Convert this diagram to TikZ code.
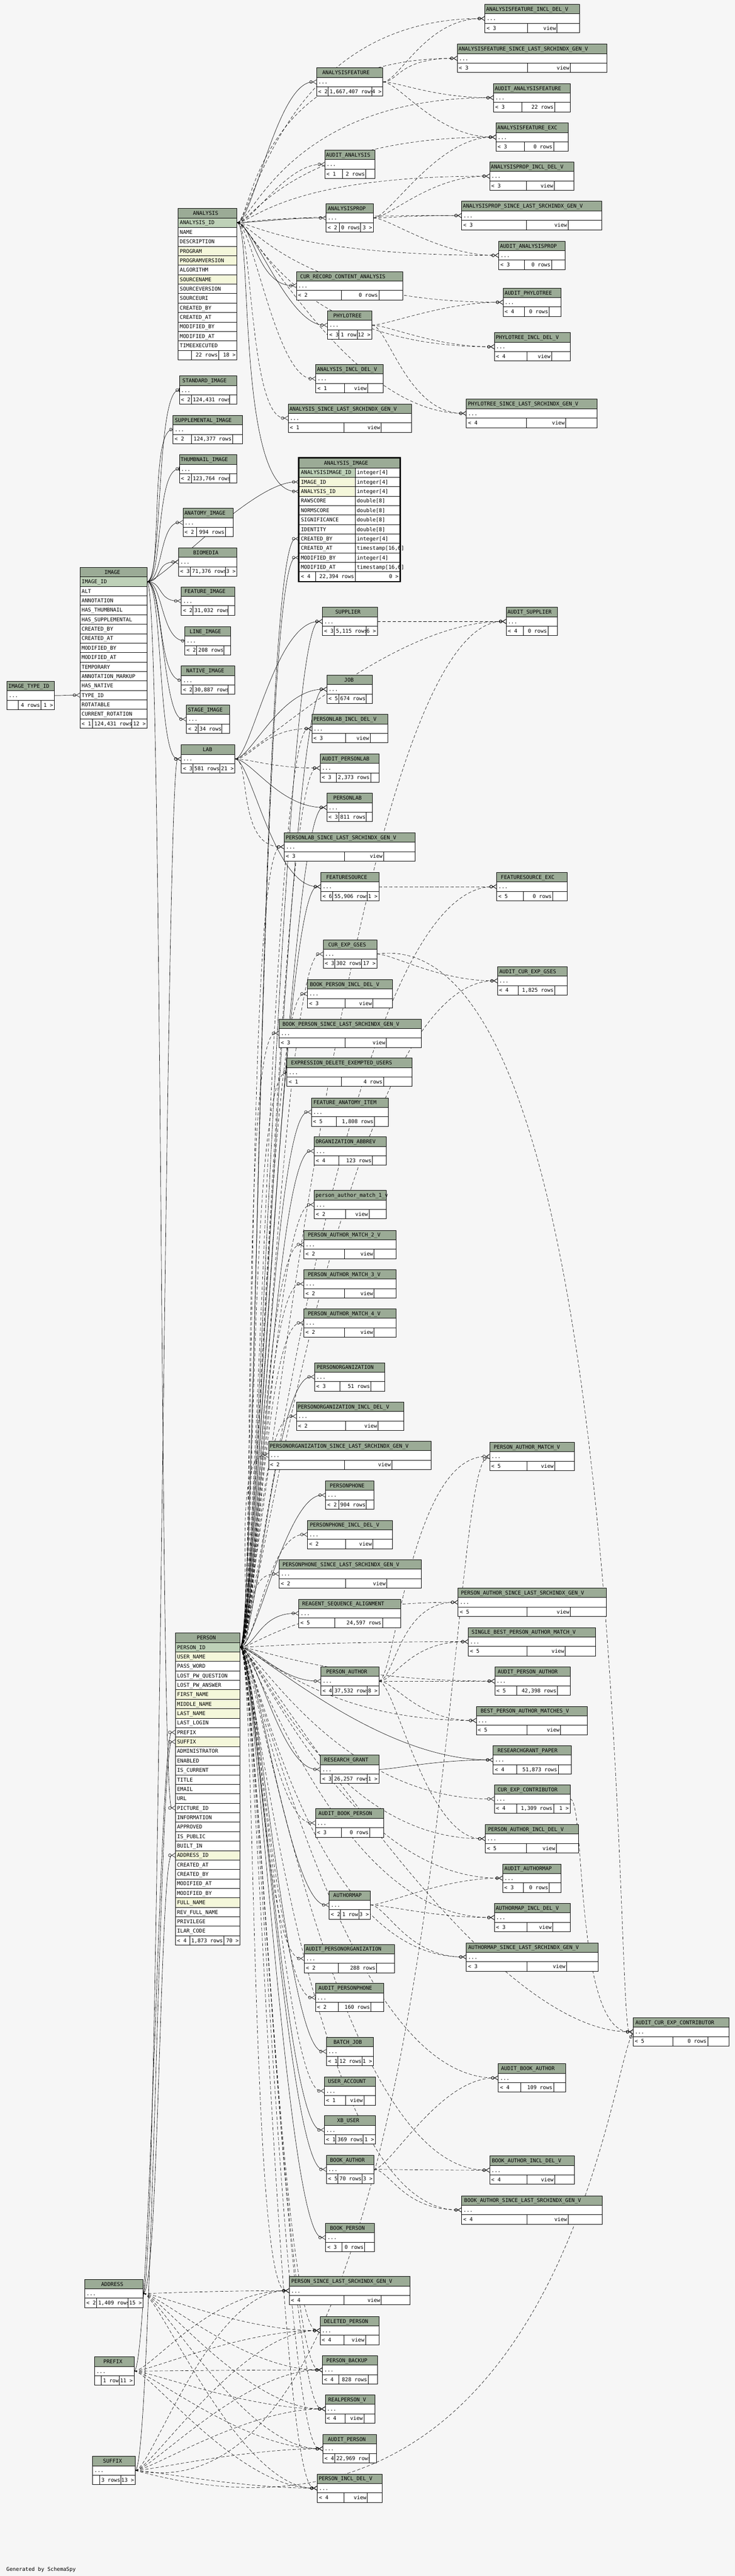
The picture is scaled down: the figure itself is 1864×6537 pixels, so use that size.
\documentclass[tikz,border=0pt]{standalone}
\usepackage{fontspec}
\usetikzlibrary{arrows.meta}
\newfontfamily\monofam{DejaVu Sans Mono}
\newcommand\erfont{\monofam\fontsize{13.3pt}{16pt}\selectfont}
\definecolor{bgc}{HTML}{F6F6F6}
\definecolor{hdc}{HTML}{9BAB96}
\definecolor{pkc}{HTML}{BED1B8}
\definecolor{idxc}{HTML}{F4F7DA}
\pgfdeclarelayer{back}
\pgfdeclarelayer{links}
\pgfsetlayers{back,links,main}
\newcount\chn
\def\countchars#1{\chn=0 \countloop#1\relax}
\def\countloop#1{\ifx#1\relax\else\advance\chn by1 \expandafter\countloop\fi}
\newcommand\tblhead[5]{%
  \pgfmathsetmacro\tbW{#4-#2}%
  \countchars{#5}%
  \pgfmathsetmacro\tbT{max(#2+3,(#2+#4)/2-4.64*\the\chn)}%
  \node[hdbox,minimum width=\tbW pt] (#1-h) at (#2,#3) {};
  \node[txt] (#1-t) at (\tbT,#3+17) {#5};
}
\newcommand\tbl[5]{%
  \def\tbid{#1}\def\tbX{#2}\def\tbY{#3}\def\tbR{#4}%
  \tblhead{#1}{#2}{#3}{#4}{#5}%
  \node[rbox,minimum width=\tbW pt] (#1) at (#2,#3+24) {};
  \node[txt] (#1-d) at (#2+4,#3+41) {...};
}
\newcommand\tabfoot[9]{%
  \pgfmathsetmacro\tbW{#4-#2}\pgfmathsetmacro\tbV{#4-#6}%
  \countchars{#8}%
  \pgfmathsetmacro\tbM{max(#5+4,#6-3-8*\the\chn)}%
  \node[rbox,minimum width=\tbW pt] (#1-f) at (#2,#3) {};
  \node[txt] (#1-fm) at (\tbM,#3+17) {#8};
  \node[rbox,minimum width=\tbV pt] (#1-fr) at (#6,#3) {};
  \node[txt,anchor=base east] (#1-fx) at (#4-3,#3+17) {#9};
  \node[txt] (#1-fl) at (#2+4,#3+17) {#7};
  \draw[tline] (#5,#3) -- (#5,#3+24);
}
\newcommand\tblfoot[5]{\tabfoot{\tbid}{\tbX}{\tbY+48}{\tbR}{#1}{#2}{#3}{#4}{#5}}

\begin{document}
\begin{tikzpicture}[x=1pt,y=-1pt,
  tline/.style={line width=1pt},
  hdbox/.style={draw,line width=1pt,fill=hdc,anchor=north west,minimum height=24pt,inner sep=0pt,outer sep=0pt},
  rbox/.style={hdbox,fill=white},
  txt/.style={anchor=base west,inner sep=0pt,font=\erfont},
  fk/.style={line width=0.8pt,-{Circle[open,length=8pt,width=8pt] Straight Barb[reversed,length=9pt,width=11pt]}},
  ifk/.style={fk,dash pattern=on 8pt off 5pt},
  fk1/.style={line width=0.8pt,-{Circle[open,length=8pt,width=8pt] Bar[width=11pt,line width=1.6pt]}},
  ifk1/.style={fk1,dash pattern=on 8pt off 5pt},
  lnk/.style={to path={.. controls +(40,0) and +(-#1,0) .. (\tikztotarget)}},
  lnk/.default=100]
\useasboundingbox (0,0) rectangle (1864,6537);
\begin{pgfonlayer}{back}
\fill[bgc] (0,0) rectangle (1864,6537);
\end{pgfonlayer}

\tblhead{analysis}{452}{529}{601}{ANALYSIS}
\foreach \cn/\fc [count=\i] in {ANALYSIS\_ID/pkc,NAME/white,DESCRIPTION/white,PROGRAM/idxc,PROGRAMVERSION/idxc,ALGORITHM/white,SOURCENAME/idxc,SOURCEVERSION/white,SOURCEURI/white,CREATED\_BY/white,CREATED\_AT/white,MODIFIED\_BY/white,MODIFIED\_AT/white,TIMEEXECUTED/white} {
  \node[rbox,minimum width=149pt,fill=\fc] (analysis-\i) at (452,529+24*\i) {};
  \node[txt] (analysis-\i-t) at (456,546+24*\i) {\cn};
}
\tabfoot{analysis}{452}{889}{601}{486}{555}{}{22~rows}{18 >}

\tblhead{image}{203}{1440}{373}{IMAGE}
\foreach \cn/\fc [count=\i] in {IMAGE\_ID/pkc,ALT/white,ANNOTATION/white,HAS\_THUMBNAIL/white,HAS\_SUPPLEMENTAL/white,CREATED\_BY/white,CREATED\_AT/white,MODIFIED\_BY/white,MODIFIED\_AT/white,TEMPORARY/white,ANNOTATION\_MARKUP/white,HAS\_NATIVE/white,TYPE\_ID/white,ROTATABLE/white,CURRENT\_ROTATION/white} {
  \node[rbox,minimum width=170pt,fill=\fc] (image-\i) at (203,1440+24*\i) {};
  \node[txt] (image-\i-t) at (207,1457+24*\i) {\cn};
}
\tabfoot{image}{203}{1824}{373}{235}{334}{< 1}{124,431~rows}{12 >}

\tblhead{person}{445}{4144}{609}{PERSON}
\foreach \cn/\fc [count=\i] in {PERSON\_ID/pkc,USER\_NAME/idxc,PASS\_WORD/white,LOST\_PW\_QUESTION/white,LOST\_PW\_ANSWER/white,FIRST\_NAME/idxc,MIDDLE\_NAME/idxc,LAST\_NAME/idxc,LAST\_LOGIN/white,PREFIX/white,SUFFIX/idxc,ADMINISTRATOR/white,ENABLED/white,IS\_CURRENT/white,TITLE/white,EMAIL/white,URL/white,PICTURE\_ID/white,INFORMATION/white,APPROVED/white,IS\_PUBLIC/white,BUILT\_IN/white,ADDRESS\_ID/idxc,CREATED\_AT/white,CREATED\_BY/white,MODIFIED\_AT/white,MODIFIED\_BY/white,FULL\_NAME/idxc,REV\_FULL\_NAME/white,PRIVILEGE/white,ILAR\_CODE/white} {
  \node[rbox,minimum width=164pt,fill=\fc] (person-\i) at (445,4144+24*\i) {};
  \node[txt] (person-\i-t) at (449,4161+24*\i) {\cn};
}
\tabfoot{person}{445}{4912}{609}{481}{568}{< 4}{1,873~rows}{70 >}

\tblhead{anaimg}{759}{1163}{1014}{ANALYSIS\_IMAGE}
\foreach \cn/\ty/\fc [count=\i] in {ANALYSISIMAGE\_ID/integer[4]/pkc,IMAGE\_ID/integer[4]/idxc,ANALYSIS\_ID/integer[4]/idxc,RAWSCORE/double[8]/white,NORMSCORE/double[8]/white,SIGNIFICANCE/double[8]/white,IDENTITY/double[8]/white,CREATED\_BY/integer[4]/white,CREATED\_AT/{timestamp[16,6]}/white,MODIFIED\_BY/integer[4]/white,MODIFIED\_AT/{timestamp[16,6]}/white} {
  \node[rbox,minimum width=142pt,fill=\fc] (anaimg-\i) at (759,1163+24*\i) {};
  \node[txt] (anaimg-\i-t) at (763,1180+24*\i) {\cn};
  \node[rbox,minimum width=113pt] (anaimg-\i-y) at (901,1163+24*\i) {};
  \node[txt] (anaimg-\i-yt) at (905,1180+24*\i) {\ty};
}
\tabfoot{anaimg}{759}{1451}{1014}{800}{901}{< 4}{22,394~rows}{0 >}
\draw[line width=3pt] (757,1161) rectangle (1015.5,1476);

\tbl{afincl}{1230}{11}{1470}{ANALYSISFEATURE\_INCL\_DEL\_V}\tblfoot{1338}{1413}{< 3}{view}{}
\tbl{afsince}{1160}{112}{1539}{ANALYSISFEATURE\_SINCE\_LAST\_SRCHINDX\_GEN\_V}\tblfoot{1338}{1447}{< 3}{view}{}
\tbl{afeat}{803}{172}{971}{ANALYSISFEATURE}\tblfoot{832}{943}{< 2}{1,667,407~rows}{4 >}
\tbl{audaf}{1252}{212}{1446}{AUDIT\_ANALYSISFEATURE}\tblfoot{1323}{1407}{< 3}{22~rows}{}
\tbl{afexc}{1258}{312}{1441}{ANALYSISFEATURE\_EXC}\tblfoot{1330}{1404}{< 3}{0~rows}{}
\tbl{audan}{824}{381}{951}{AUDIT\_ANALYSIS}\tblfoot{868}{928}{< 1}{2~rows}{}
\tbl{apincl}{1242}{411}{1456}{ANALYSISPROP\_INCL\_DEL\_V}\tblfoot{1335}{1406}{< 3}{view}{}
\tbl{apsince}{1171}{511}{1526}{ANALYSISPROP\_SINCE\_LAST\_SRCHINDX\_GEN\_V}\tblfoot{1335}{1441}{< 3}{view}{}
\tbl{aprop}{827}{517}{947}{ANALYSISPROP}\tblfoot{861}{915}{< 2}{0~rows}{3 >}
\tbl{audap}{1265}{612}{1434}{AUDIT\_ANALYSISPROP}\tblfoot{1330}{1399}{< 3}{0~rows}{}
\tbl{currec}{752}{689}{1021}{CUR\_RECORD\_CONTENT\_ANALYSIS}\tblfoot{866}{961}{< 2}{0~rows}{}
\tbl{audpt}{1276}{731}{1423}{AUDIT\_PHYLOTREE}\tblfoot{1330}{1393}{< 4}{0~rows}{}
\tbl{phylo}{831}{789}{943}{PHYLOTREE}\tblfoot{860}{906}{< 3}{1~row}{12 >}
\tbl{ptincl}{1254}{844}{1446}{PHYLOTREE\_INCL\_DEL\_V}\tblfoot{1336}{1399}{< 4}{view}{}
\tbl{anincl}{801}{925}{972}{ANALYSIS\_INCL\_DEL\_V}\tblfoot{874}{933}{< 1}{view}{}
\tbl{stdimg}{455}{954}{600}{STANDARD\_IMAGE}\tblfoot{485}{582}{< 2}{124,431~rows}{}
\tbl{ptsince}{1183}{1013}{1515}{PHYLOTREE\_SINCE\_LAST\_SRCHINDX\_GEN\_V}\tblfoot{1335}{1435}{< 4}{view}{}
\tbl{ansince}{731}{1025}{1044}{ANALYSIS\_SINCE\_LAST\_SRCHINDX\_GEN\_V}\tblfoot{873}{967}{< 1}{view}{}
\tbl{supimg}{439}{1054}{615}{SUPPLEMENTAL\_IMAGE}\tblfoot{485}{590}{< 2}{124,377~rows}{}
\tbl{thumb}{455}{1154}{600}{THUMBNAIL\_IMAGE}\tblfoot{485}{582}{< 2}{123,764~rows}{}
\tbl{anatimg}{464}{1290}{592}{ANATOMY\_IMAGE}\tblfoot{499}{572}{< 2}{994~rows}{}
\tbl{biomedia}{453}{1390}{601}{BIOMEDIA}\tblfoot{483}{572}{< 3}{71,376~rows}{3 >}
\tbl{featimg}{460}{1489}{596}{FEATURE\_IMAGE}\tblfoot{489}{578}{< 2}{31,032~rows}{}
\tbl{supplier}{818}{1541}{957}{SUPPLIER}\tblfoot{848}{929}{< 3}{5,115~rows}{6 >}
\tbl{audsup}{1284}{1541}{1414}{AUDIT\_SUPPLIER}\tblfoot{1327}{1390}{< 4}{0~rows}{}
\tbl{lineimg}{469}{1590}{585}{LINE\_IMAGE}\tblfoot{499}{568}{< 2}{208~rows}{}
\tbl{natimg}{460}{1690}{596}{NATIVE\_IMAGE}\tblfoot{489}{578}{< 2}{30,887~rows}{}
\tbl{job}{829}{1713}{945}{JOB}\tblfoot{859}{929}{< 5}{674~rows}{}
\tbl{imgtype}{18}{1729}{138}{IMAGE\_TYPE\_ID}\tblfoot{46}{104}{}{4~rows}{1 >}
\tbl{stageimg}{473}{1789}{582}{STAGE\_IMAGE}\tblfoot{502}{563}{< 2}{34~rows}{}
\tbl{plincl}{791}{1813}{984}{PERSONLAB\_INCL\_DEL\_V}\tblfoot{876}{939}{< 3}{view}{}
\tbl{lab}{460}{1890}{596}{LAB}\tblfoot{489}{557}{< 3}{581~rows}{21 >}
\tbl{audpl}{812}{1913}{961}{AUDIT\_PERSONLAB}\tblfoot{853}{940}{< 3}{2,373~rows}{}
\tbl{personlab}{829}{2013}{945}{PERSONLAB}\tblfoot{859}{929}{< 3}{811~rows}{}
\tbl{plsince}{721}{2113}{1053}{PERSONLAB\_SINCE\_LAST\_SRCHINDX\_GEN\_V}\tblfoot{874}{973}{< 3}{view}{}
\tbl{fsrc}{814}{2214}{961}{FEATURESOURCE}\tblfoot{844}{932}{< 6}{55,906~rows}{1 >}
\tbl{fsrcexc}{1260}{2214}{1438}{FEATURESOURCE\_EXC}\tblfoot{1327}{1402}{< 5}{0~rows}{}
\tbl{gses}{820}{2385}{956}{CUR\_EXP\_GSES}\tblfoot{849}{917}{< 3}{302~rows}{17 >}
\tbl{audgses}{1262}{2453}{1438}{AUDIT\_CUR\_EXP\_GSES}\tblfoot{1315}{1407}{< 4}{1,825~rows}{}
\tbl{bpincl}{780}{2486}{996}{BOOK\_PERSON\_INCL\_DEL\_V}\tblfoot{875}{946}{< 3}{view}{}
\tbl{bpsince}{708}{2586}{1068}{BOOK\_PERSON\_SINCE\_LAST\_SRCHINDX\_GEN\_V}\tblfoot{875}{980}{< 3}{view}{}
\tbl{exempt}{728}{2685}{1045}{EXPRESSION\_DELETE\_EXEMPTED\_USERS}\tblfoot{866}{973}{< 1}{4~rows}{}
\tbl{fanat}{790}{2786}{985}{FEATURE\_ANATOMY\_ITEM}\tblfoot{853}{950}{< 5}{1,808~rows}{}
\tbl{orgab}{797}{2885}{980}{ORGANIZATION\_ABBREV}\tblfoot{859}{945}{< 4}{123~rows}{}
\tbl{pam1}{797}{3021}{980}{person\_author\_match\_1\_v}\tblfoot{876}{936}{< 2}{view}{}
\tbl{pam2}{771}{3122}{1004}{PERSON\_AUTHOR\_MATCH\_2\_V}\tblfoot{874}{949}{< 2}{view}{}
\tbl{pam3}{771}{3222}{1004}{PERSON\_AUTHOR\_MATCH\_3\_V}\tblfoot{874}{949}{< 2}{view}{}
\tbl{pam4}{771}{3321}{1004}{PERSON\_AUTHOR\_MATCH\_4\_V}\tblfoot{874}{949}{< 2}{view}{}
\tbl{porg}{798}{3458}{976}{PERSONORGANIZATION}\tblfoot{862}{941}{< 3}{51~rows}{}
\tbl{porgincl}{752}{3558}{1024}{PERSONORGANIZATION\_INCL\_DEL\_V}\tblfoot{876}{959}{< 2}{view}{}
\tbl{porgsince}{681}{3657}{1093}{PERSONORGANIZATION\_SINCE\_LAST\_SRCHINDX\_GEN\_V}\tblfoot{874}{994}{< 2}{view}{}
\tbl{pamv}{1242}{3660}{1457}{PERSON\_AUTHOR\_MATCH\_V}\tblfoot{1336}{1407}{< 5}{view}{}
\tbl{pphone}{826}{3758}{949}{PERSONPHONE}\tblfoot{859}{929}{< 2}{904~rows}{}
\tbl{ppincl}{780}{3858}{996}{PERSONPHONE\_INCL\_DEL\_V}\tblfoot{876}{946}{< 2}{view}{}
\tbl{ppsince}{708}{3958}{1068}{PERSONPHONE\_SINCE\_LAST\_SRCHINDX\_GEN\_V}\tblfoot{876}{981}{< 2}{view}{}
\tbl{pasince}{1162}{4030}{1538}{PERSON\_AUTHOR\_SINCE\_LAST\_SRCHINDX\_GEN\_V}\tblfoot{1336}{1447}{< 5}{view}{}
\tbl{rsa}{758}{4058}{1016}{REAGENT\_SEQUENCE\_ALIGNMENT}\tblfoot{849}{970}{< 5}{24,597~rows}{}
\tbl{sbest}{1188}{4130}{1510}{SINGLE\_BEST\_PERSON\_AUTHOR\_MATCH\_V}\tblfoot{1336}{1434}{< 5}{view}{}
\tbl{pauth}{814}{4230}{961}{PERSON\_AUTHOR}\tblfoot{844}{932}{< 4}{37,532~rows}{8 >}
\tbl{audpa}{1255}{4230}{1446}{AUDIT\_PERSON\_AUTHOR}\tblfoot{1311}{1414}{< 5}{42,398~rows}{}
\tbl{bestpa}{1208}{4330}{1490}{BEST\_PERSON\_AUTHOR\_MATCHES\_V}\tblfoot{1336}{1422}{< 5}{view}{}
\tbl{rgpaper}{1251}{4430}{1449}{RESEARCHGRANT\_PAPER}\tblfoot{1311}{1416}{< 4}{51,873~rows}{}
\tbl{rgrant}{813}{4454}{961}{RESEARCH\_GRANT}\tblfoot{843}{932}{< 3}{26,257~rows}{1 >}
\tbl{cexpc}{1254}{4529}{1446}{CUR\_EXP\_CONTRIBUTOR}\tblfoot{1310}{1404}{< 4}{1,309~rows}{1 >}
\tbl{audbp}{800}{4590}{973}{AUDIT\_BOOK\_PERSON}\tblfoot{866}{938}{< 3}{0~rows}{}
\tbl{paincl}{1231}{4630}{1467}{PERSON\_AUTHOR\_INCL\_DEL\_V}\tblfoot{1335}{1411}{< 5}{view}{}
\tbl{audam}{1275}{4730}{1423}{AUDIT\_AUTHORMAP}\tblfoot{1328}{1393}{< 3}{0~rows}{}
\tbl{authmap}{835}{4798}{939}{AUTHORMAP}\tblfoot{864}{911}{< 2}{1~row}{3 >}
\tbl{amincl}{1254}{4830}{1446}{AUTHORMAP\_INCL\_DEL\_V}\tblfoot{1337}{1402}{< 3}{view}{}
\tbl{amsince}{1183}{4930}{1517}{AUTHORMAP\_SINCE\_LAST\_SRCHINDX\_GEN\_V}\tblfoot{1337}{1437}{< 3}{view}{}
\tbl{audporg}{772}{4934}{1001}{AUDIT\_PERSONORGANIZATION}\tblfoot{858}{955}{< 2}{288~rows}{}
\tbl{audpp}{800}{5033}{973}{AUDIT\_PERSONPHONE}\tblfoot{858}{941}{< 2}{160~rows}{}
\tbl{audcexpc}{1606}{5120}{1849}{AUDIT\_CUR\_EXP\_CONTRIBUTOR}\tblfoot{1706}{1795}{< 5}{0~rows}{}
\tbl{batch}{828}{5170}{947}{BATCH\_JOB}\tblfoot{857}{918}{< 1}{12~rows}{1 >}
\tbl{audba}{1264}{5237}{1435}{AUDIT\_BOOK\_AUTHOR}\tblfoot{1321}{1404}{< 4}{109~rows}{}
\tbl{uacct}{823}{5270}{952}{USER\_ACCOUNT}\tblfoot{876}{923}{< 1}{view}{}
\tbl{xbuser}{823}{5369}{952}{XB\_USER}\tblfoot{852}{921}{< 1}{369~rows}{1 >}
\tbl{bauth}{828}{5469}{948}{BOOK\_AUTHOR}\tblfoot{857}{918}{< 5}{70~rows}{3 >}
\tbl{baincl}{1242}{5471}{1457}{BOOK\_AUTHOR\_INCL\_DEL\_V}\tblfoot{1336}{1407}{< 4}{view}{}
\tbl{basince}{1171}{5572}{1527}{BOOK\_AUTHOR\_SINCE\_LAST\_SRCHINDX\_GEN\_V}\tblfoot{1336}{1441}{< 4}{view}{}
\tbl{bperson}{826}{5642}{950}{BOOK\_PERSON}\tblfoot{867}{925}{< 3}{0~rows}{}
\tbl{psince}{734}{5777}{1040}{PERSON\_SINCE\_LAST\_SRCHINDX\_GEN\_V}\tblfoot{873}{967}{< 4}{view}{}
\tbl{address}{215}{5784}{363}{ADDRESS}\tblfoot{245}{325}{< 2}{1,409~rows}{15 >}
\tbl{delp}{812}{5878}{961}{DELETED\_PERSON}\tblfoot{873}{927}{< 4}{view}{}
\tbl{pbackup}{818}{5978}{958}{PERSON\_BACKUP}\tblfoot{859}{934}{< 4}{828~rows}{}
\tbl{prefix}{240}{5981}{340}{PREFIX}\tblfoot{257}{302}{}{1~row}{11 >}
\tbl{realp}{825}{6077}{951}{REALPERSON\_V}\tblfoot{875}{923}{< 4}{view}{}
\tbl{audp}{819}{6178}{955}{AUDIT\_PERSON}\tblfoot{849}{937}{< 4}{22,969~rows}{}
\tbl{suffix}{235}{6233}{343}{SUFFIX}\tblfoot{253}{306}{}{3~rows}{13 >}
\tbl{pincl}{805}{6278}{969}{PERSON\_INCL\_DEL\_V}\tblfoot{873}{932}{< 4}{view}{}
\node[txt] (credit) at (16,6524) {Generated by SchemaSpy};

\begin{pgfonlayer}{links}
\path[fk] (analysis-1.east) edge[lnk] (afeat.west) edge[lnk] (aprop.west)
  edge[lnk] (currec.west) edge[lnk] (phylo.west) edge[lnk=160] (anaimg-3.west);
\path[ifk] (analysis-1.east) edge[lnk=520] (afincl.west) edge[lnk=520] (afsince.west)
  edge[lnk=520] (audaf.west) edge[lnk=520] (afexc.west) edge[lnk] (audan.west)
  edge[lnk=520] (apincl.west) edge[lnk=520] (apsince.west) edge[lnk=520] (audap.west)
  edge[lnk=520] (audpt.west) edge[lnk=520] (ptincl.west) edge[lnk] (anincl.west)
  edge[lnk] (ansince.west) edge[lnk=300] (ptsince.west);
\path[ifk] (afeat.east) edge[lnk=150] (afincl.west) edge[lnk=150] (afsince.west)
  edge[lnk=150] (audaf.west) edge[lnk=150] (afexc.west);
\path[ifk] (aprop.east) edge[lnk=150] (apincl.west) edge[lnk=150] (apsince.west)
  edge[lnk=150] (audap.west) edge[lnk=150] (afexc.west);
\path[ifk] (phylo.east) edge[lnk=150] (audpt.west) edge[lnk=150] (ptincl.west)
  edge[lnk=150] (ptsince.west);
\path[fk1] (image-1.east) edge[lnk=60] (stdimg.west) edge[lnk=60] (supimg.west)
  edge[lnk=60] (thumb.west) edge[lnk=60] (lineimg.west) edge[lnk=60] (natimg.west);
\path[fk] (image-1.east) edge[lnk=60] (anatimg.west) edge[lnk=60] (biomedia.west)
  edge[lnk=60] (featimg.west) edge[lnk=60] (stageimg.west) edge[lnk=60] (lab.west)
  edge[lnk=120] (anaimg-2.west) edge[lnk=40] (person-18.west);
\path[fk] (imgtype.east) edge[lnk=60] (image-13.west);
\path[fk] (lab.east) edge[lnk=120] (supplier.west) edge[lnk=120] (job.west)
  edge[lnk=120] (personlab.west) edge[lnk=120] (fsrc.west);
\path[ifk] (lab.east) edge[lnk=120] (plincl.west) edge[lnk=120] (audpl.west)
  edge[lnk=120] (plsince.west) edge[lnk=300] (audsup.west);
\path[ifk] (supplier.east) edge[lnk] (audsup.west);
\path[fk] (person-1.east) edge[lnk] (anaimg-8.west) edge[lnk] (anaimg-10.west)
  edge[lnk] (supplier.west) edge[lnk] (job.west) edge[lnk] (personlab.west)
  edge[lnk] (fsrc.west) edge[lnk] (fanat.west) edge[lnk] (orgab.west)
  edge[lnk] (porg.west) edge[lnk] (pphone.west) edge[lnk] (rsa.west)
  edge[lnk] (pauth.west) edge[lnk] (rgrant.west) edge[lnk=300] (rgpaper.west)
  edge[lnk] (authmap.west) edge[lnk] (batch.west) edge[lnk] (xbuser.west)
  edge[lnk] (bauth.west) edge[lnk] (bperson.west);
\path[ifk] (person-1.east) edge[lnk] (gses.west) edge[lnk] (bpincl.west)
  edge[lnk] (bpsince.west) edge[lnk] (pam1.west) edge[lnk] (pam2.west)
  edge[lnk] (pam3.west) edge[lnk] (pam4.west) edge[lnk] (porgincl.west)
  edge[lnk] (porgsince.west) edge[lnk] (ppincl.west) edge[lnk] (ppsince.west)
  edge[lnk] (audbp.west) edge[lnk] (audporg.west) edge[lnk] (audpp.west)
  edge[lnk] (uacct.west) edge[lnk] (psince.west) edge[lnk] (delp.west)
  edge[lnk] (pbackup.west) edge[lnk] (realp.west) edge[lnk] (audp.west)
  edge[lnk] (pincl.west) edge[lnk] (audpl.west) edge[lnk] (plincl.west)
  edge[lnk] (plsince.west);
\path[ifk1] (person-1.east) edge[lnk] (exempt.west);
\path[ifk] (person-1.east) edge[lnk=400] (sbest.west) edge[lnk=400] (audpa.west)
  edge[lnk=400] (bestpa.west) edge[lnk=400] (cexpc.west) edge[lnk=400] (paincl.west)
  edge[lnk=400] (pasince.west) edge[lnk=400] (audam.west) edge[lnk=400] (amincl.west)
  edge[lnk=400] (amsince.west) edge[lnk=400] (audba.west) edge[lnk=400] (baincl.west)
  edge[lnk=400] (basince.west) edge[lnk=400] (audgses.west) edge[lnk=400] (fsrcexc.west)
  edge[lnk=400] (audcexpc.west) edge[lnk=400] (audsup.west);
\path[ifk] (pauth.east) edge[lnk=150] (pasince.west) edge[lnk=150] (sbest.west)
  edge[lnk=150] (audpa.west) edge[lnk=150] (bestpa.west) edge[lnk=150] (paincl.west)
  edge[lnk=200] (pamv.west);
\path[fk] (rgrant.east) edge[lnk=150] (rgpaper.west);
\path[ifk] (cexpc.east) edge[lnk=150] (audcexpc.west);
\path[ifk] (gses.east) edge[lnk=150] (audgses.west);
\draw[ifk] (gses.east) .. controls (1600,2330) and (1560,5156) .. (audcexpc.west);
\path[ifk] (fsrc.east) edge[lnk=150] (fsrcexc.west);
\path[ifk] (authmap.east) edge[lnk=150] (audam.west) edge[lnk=150] (amincl.west)
  edge[lnk=150] (amsince.west);
\path[ifk] (bauth.east) edge[lnk=150] (audba.west) edge[lnk=150] (baincl.west)
  edge[lnk=150] (basince.west);
\path[fk] (address.east) edge[lnk=40] (person-23.west) edge[lnk=40] (lab.west);
\path[fk] (prefix.east) edge[lnk=40] (person-10.west);
\path[fk] (suffix.east) edge[lnk=40] (person-11.west);
\path[ifk] (address.east) edge[lnk=200] (psince.west) edge[lnk=200] (delp.west)
  edge[lnk=200] (pbackup.west) edge[lnk=200] (realp.west) edge[lnk=200] (audp.west)
  edge[lnk=200] (pincl.west);
\path[ifk] (prefix.east) edge[lnk=200] (psince.west) edge[lnk=200] (delp.west)
  edge[lnk=200] (pbackup.west) edge[lnk=200] (realp.west) edge[lnk=200] (audp.west)
  edge[lnk=200] (pincl.west);
\path[ifk] (suffix.east) edge[lnk=200] (psince.west) edge[lnk=200] (delp.west)
  edge[lnk=200] (pbackup.west) edge[lnk=200] (realp.west) edge[lnk=200] (audp.west)
  edge[lnk=200] (pincl.west);
\draw[ifk] (suffix.east) .. controls (1400,6560) and (1540,5300) .. (audcexpc.west);
\draw[ifk] (suffix.east) .. controls (1130,6420) and (1130,3750) .. (pamv.west);
\end{pgfonlayer}
\end{tikzpicture}
\end{document}
